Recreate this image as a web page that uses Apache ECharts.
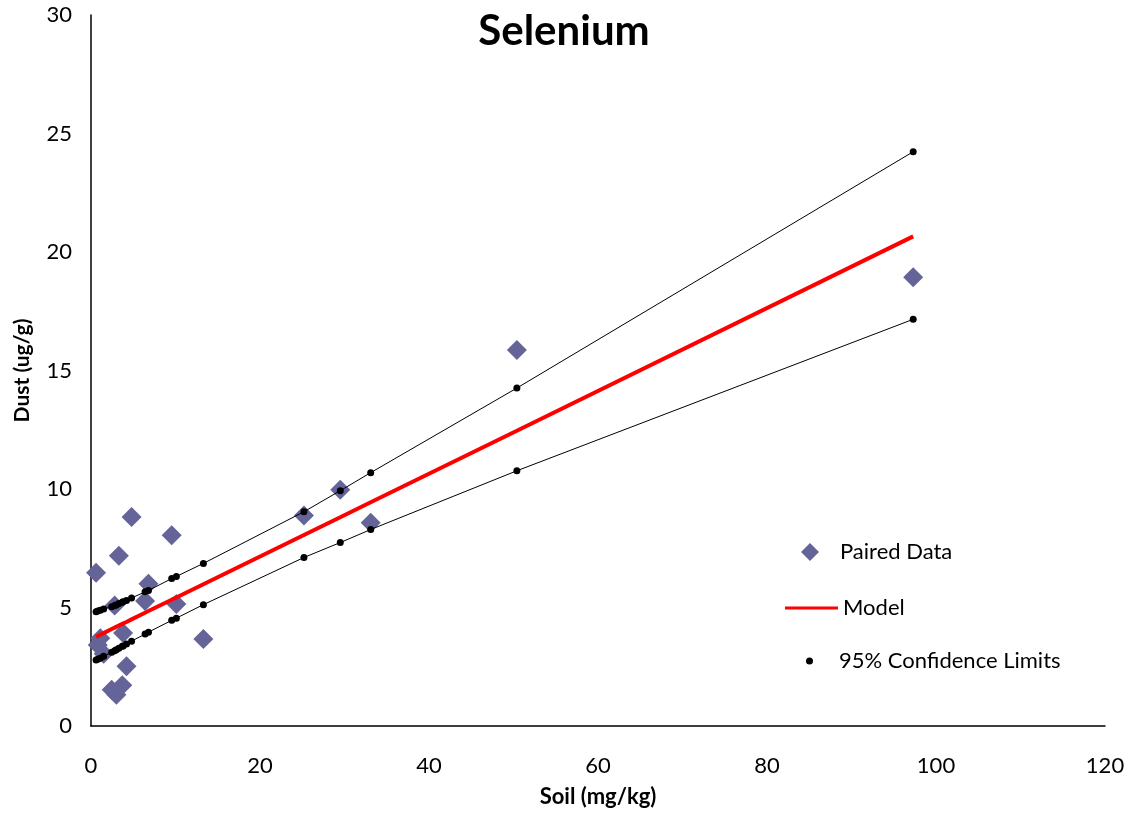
<!DOCTYPE html>
<html>
<head>
<meta charset="utf-8">
<script src="https://cdn.jsdelivr.net/npm/echarts@6/dist/echarts.min.js"></script>
<style>
html,body{margin:0;padding:0;background:#fff;}
#chart{width:1135px;height:813px;}
</style>
</head>
<body>
<div id="chart"></div>
<script>
// Paired data (soil mg/kg, dust ug/g)
var soilValues = [0.6, 0.8, 1.1, 1.5, 2.45, 2.8, 3.0, 3.3, 3.7, 3.8, 4.2, 4.8, 6.4, 6.8, 9.55, 10.1, 13.3, 25.2, 29.5, 33.1, 50.4, 97.3];
var dustValues = [6.47, 3.42, 3.70, 3.05, 1.53, 5.08, 1.32, 7.18, 1.72, 3.92, 2.52, 8.82, 5.27, 6.00, 8.05, 5.15, 3.67, 8.88, 9.97, 8.58, 15.86, 18.93];
// Model line and 95% confidence limits, read at each soil value
var modelValues = [3.76, 3.80, 3.85, 3.92, 4.09, 4.15, 4.18, 4.24, 4.31, 4.32, 4.39, 4.50, 4.78, 4.85, 5.33, 5.42, 5.98, 8.06, 8.81, 9.44, 12.46, 20.66];
var upperValues = [4.82, 4.85, 4.88, 4.94, 5.03, 5.08, 5.11, 5.17, 5.22, 5.24, 5.30, 5.40, 5.66, 5.72, 6.22, 6.31, 6.86, 9.04, 9.93, 10.69, 14.26, 24.23];
var lowerValues = [2.78, 2.82, 2.86, 2.94, 3.11, 3.18, 3.22, 3.28, 3.36, 3.38, 3.46, 3.58, 3.88, 3.96, 4.46, 4.55, 5.12, 7.11, 7.74, 8.29, 10.77, 17.16];
var xTicks = [0, 20, 40, 60, 80, 100, 120];
var yTicks = [0, 5, 10, 15, 20, 25, 30];

function pairs(xs, ys) { return xs.map(function (x, i) { return [x, ys[i]]; }); }

var FONT = 'Lato, "Open Sans", sans-serif';
var chart = echarts.init(document.getElementById('chart'), null, {renderer: 'canvas'});
chart.setOption({
  backgroundColor: '#ffffff',
  animation: false,
  title: {
    text: 'Selenium',
    left: 559, top: 5, textAlign: 'center',
    textStyle: {fontFamily: FONT, fontWeight: 'bold', fontSize: 42, color: '#000'}
  },
  grid: {left: 91, right: 30, top: 15, bottom: 85, containLabel: false},
  legend: [
    {data: ['Paired Data'], orient: 'vertical', left: 796, top: 536, icon: 'diamond', itemWidth: 18, itemHeight: 18,
     textStyle: {fontFamily: FONT, fontSize: 22, color: '#000', padding: [0, 0, 0, 16]}},
    {data: ['Model'], orient: 'vertical', left: 780, top: 592, icon: 'rect', itemWidth: 53, itemHeight: 3,
     textStyle: {fontFamily: FONT, fontSize: 22, color: '#000', padding: [0, 0, 0, 0]}},
    {data: ['95% Confidence Limits'], orient: 'vertical', left: 801, top: 645, icon: 'circle', itemWidth: 7, itemHeight: 7,
     textStyle: {fontFamily: FONT, fontSize: 22, color: '#000', padding: [0, 0, 0, 21]}}
  ],
  xAxis: {
    type: 'value', min: 0, max: 120, interval: 20,
    name: 'Soil (mg/kg)', nameLocation: 'middle', nameGap: 60,
    nameTextStyle: {fontFamily: FONT, fontWeight: 'bold', fontSize: 22, color: '#000'},
    axisLine: {show: true, onZero: false, lineStyle: {color: '#000', width: 1.5}},
    axisTick: {show: false},
    splitLine: {show: false},
    axisLabel: {fontFamily: FONT, fontSize: 22, color: '#000', margin: 29,
      formatter: function (v) { return xTicks.indexOf(v) >= 0 ? String(v) : ''; }}
  },
  yAxis: {
    type: 'value', min: 0, max: 30, interval: 5,
    name: 'Dust (ug/g)', nameLocation: 'middle', nameGap: 58, nameRotate: 90,
    nameTextStyle: {fontFamily: FONT, fontWeight: 'bold', fontSize: 21, color: '#000'},
    axisLine: {show: true, onZero: false, lineStyle: {color: '#000', width: 1.5}},
    axisTick: {show: false},
    splitLine: {show: false},
    axisLabel: {fontFamily: FONT, fontSize: 22, color: '#000', margin: 19,
      formatter: function (v) { return yTicks.indexOf(v) >= 0 ? String(v) : ''; }}
  },
  series: [
    {name: 'Paired Data', type: 'scatter', symbol: 'diamond', symbolSize: 20,
     itemStyle: {color: '#646499', opacity: 1}, data: pairs(soilValues, dustValues), z: 2},
    {name: 'Model', type: 'line', showSymbol: false, symbol: 'none',
     lineStyle: {color: '#ff0000', width: 4}, itemStyle: {color: '#ff0000'},
     data: pairs(soilValues, modelValues), z: 3},
    {name: '95% Confidence Limits', type: 'line', symbol: 'circle', symbolSize: 7, showSymbol: true,
     lineStyle: {color: '#000', width: 1}, itemStyle: {color: '#000'},
     data: pairs(soilValues, upperValues), z: 4},
    {name: '95% Confidence Limits', type: 'line', symbol: 'circle', symbolSize: 7, showSymbol: true,
     lineStyle: {color: '#000', width: 1}, itemStyle: {color: '#000'},
     data: pairs(soilValues, lowerValues), z: 4}
  ]
});
</script>
</body>
</html>
